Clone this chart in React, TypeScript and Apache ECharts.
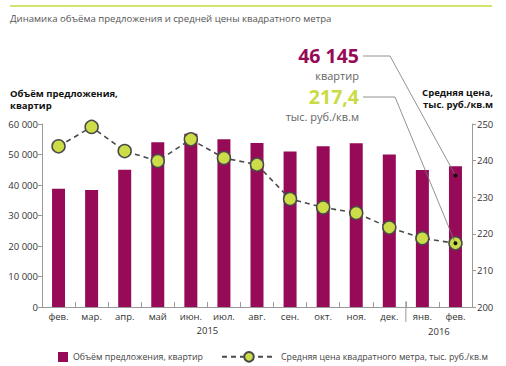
import React, { useEffect, useRef } from "react";
import * as echarts from "echarts";

const months = ["фев.", "мар.", "апр.", "май", "июн.", "июл.", "авг.", "сен.", "окт.", "ноя.", "дек.", "янв.", "фев."];
const supply = [38800, 38400, 45000, 54000, 56800, 55000, 53800, 51000, 52700, 53700, 50000, 44900, 46145];
const price = [243.9, 249.2, 242.6, 239.9, 245.8, 240.7, 238.9, 229.5, 227.2, 225.7, 221.7, 218.8, 217.4];
const years = ["2015", "2016"];
const supplyAxis = { min: 0, max: 60000, interval: 10000 };
const priceAxis = { min: 200, max: 250, interval: 10 };
const seriesNames = ["Объём предложения, квартир", "Средняя цена квадратного метра, тыс. руб./кв.м"];
const titleText = "Динамика объёма предложения и средней цены квадратного метра";
const leftAxisTitle = "Объём предложения,\nквартир";
const rightAxisTitle = "Средняя цена,\nтыс. руб./кв.м";
const calloutSupply = "46 145";
const calloutSupplyUnit = "квартир";
const calloutPrice = "217,4";
const calloutPriceUnit = "тыс. руб./кв.м";

const FONT = "'Open Sans', 'Noto Sans', sans-serif";
const BAR = "#970a57";
const GREEN = "#cddd48";
const DARK = "#4a4a4a";
const AXIS = "#9a9a9a";

export default function App() {
  const ref = useRef<HTMLDivElement>(null);
  useEffect(() => {
    if (!ref.current) return;
    const chart = echarts.init(ref.current, undefined, { renderer: "svg" });
    const fmt = (v: number) => String(v).replace(/\B(?=(\d{3})+(?!\d))/g, " ");
    chart.setOption({
      animation: false,
      textStyle: { fontFamily: FONT },
      grid: { left: 42, right: 34, top: 124, bottom: 59 },
      xAxis: {
        type: "category",
        data: months,
        axisLine: { show: true, lineStyle: { color: AXIS, width: 1 } },
        axisTick: { show: true, inside: true, length: 5, lineStyle: { color: AXIS } },
        axisLabel: { color: "#333", fontSize: 9.5, margin: 4, fontFamily: FONT },
      },
      yAxis: [
        {
          type: "value",
          position: "left",
          ...supplyAxis,
          axisLine: { show: true, lineStyle: { color: AXIS } },
          axisTick: { show: true, length: 4, lineStyle: { color: AXIS } },
          splitLine: { show: false },
          axisLabel: { color: "#333", fontSize: 9.5, margin: 4, formatter: fmt, fontFamily: FONT },
        },
        {
          type: "value",
          position: "right",
          ...priceAxis,
          axisLine: { show: true, lineStyle: { color: AXIS } },
          axisTick: { show: true, length: 4, lineStyle: { color: AXIS } },
          splitLine: { show: false },
          axisLabel: { color: "#333", fontSize: 9.5, margin: 5, fontFamily: FONT },
        },
      ],
      legend: [
        {
          data: [seriesNames[0]],
          left: 53,
          top: 347,
          icon: "rect",
          itemWidth: 10,
          itemHeight: 10,
          itemGap: 5,
          textStyle: { color: "#444", fontSize: 8.8, fontFamily: FONT },
        },
        {
          data: [seriesNames[1]],
          left: 216,
          top: 346,
          itemWidth: 54,
          itemHeight: 12,
          textStyle: { color: "#444", fontSize: 8.8, fontFamily: FONT },
        },
      ],
      series: [
        {
          name: seriesNames[0],
          type: "bar",
          data: supply,
          barWidth: 13,
          itemStyle: { color: BAR },
          yAxisIndex: 0,
        },
        {
          name: seriesNames[1],
          type: "line",
          data: price,
          yAxisIndex: 1,
          symbol: "circle",
          symbolSize: 13,
          itemStyle: { color: GREEN, borderColor: DARK, borderWidth: 1.5 },
          lineStyle: { color: DARK, width: 1.6, type: [5, 4] },
          z: 5,
        },
      ],
    });

    const last = months.length - 1;
    const px = (i: number) => (chart.convertToPixel({ xAxisIndex: 0, yAxisIndex: 0 }, [i, 0]) as number[])[0];
    const baseY = (chart.convertToPixel({ xAxisIndex: 0, yAxisIndex: 0 }, [0, 0]) as number[])[1];
    const barPt = chart.convertToPixel({ xAxisIndex: 0, yAxisIndex: 0 }, [last, supply[last] - 3000]) as number[];
    const pricePt = chart.convertToPixel({ xAxisIndex: 0, yAxisIndex: 1 }, [last, price[last]]) as number[];
    const sepX = (px(10) + px(11)) / 2;
    const y2015 = (px(4) + px(5)) / 2;
    const y2016 = (px(11) + px(12)) / 2;

    const txt = (x: number, y: number, text: string, size: number, fill: string, extra: any = {}) => ({
      type: "text",
      x,
      y,
      style: { text, fill, fontSize: size, fontFamily: FONT, verticalAlign: "middle", lineHeight: size, ...extra },
    });

    chart.setOption({
      graphic: [
        { type: "line", shape: { x1: 10, y1: 6, x2: 492, y2: 6 }, style: { stroke: "#d4e36c", lineWidth: 2 } },
        txt(10, 18, titleText, 9.6, "#555"),
        txt(10, 99, leftAxisTitle, 9.5, "#111", { fontWeight: "bold", lineHeight: 12 }),
        txt(493, 98, rightAxisTitle, 9.5, "#111", { fontWeight: "bold", lineHeight: 12, align: "right" }),
        txt(359, 55, calloutSupply, 19.5, "#960a56", { fontWeight: "bold", align: "right" }),
        txt(359, 75.5, calloutSupplyUnit, 11, "#666", { align: "right" }),
        txt(359, 96, calloutPrice, 19.5, "#c9dc44", { fontWeight: "bold", align: "right" }),
        txt(359, 116.5, calloutPriceUnit, 11, "#666", { align: "right" }),
        { type: "polyline", shape: { points: [[363, 56], [390, 56], [barPt[0], barPt[1]]] }, style: { stroke: "#777", lineWidth: 0.8, fill: null }, z: 10 },
        { type: "polyline", shape: { points: [[363, 97], [395, 97], [pricePt[0], pricePt[1]]] }, style: { stroke: "#777", lineWidth: 0.8, fill: null }, z: 10 },
        { type: "circle", shape: { cx: barPt[0], cy: barPt[1], r: 2 }, style: { fill: "#111" }, z: 10 },
        { type: "circle", shape: { cx: pricePt[0], cy: pricePt[1], r: 2 }, style: { fill: "#111" }, z: 10 },
        { type: "line", shape: { x1: sepX, y1: baseY - 6, x2: sepX, y2: baseY + 15 }, style: { stroke: AXIS, lineWidth: 1 } },
        txt(y2015, 330, years[0], 9.5, "#333", { align: "center" }),
        txt(y2016, 331, years[1], 9.5, "#333", { align: "center" }),
      ],
    });
    return () => chart.dispose();
  }, []);
  return <div ref={ref} style={{ width: 506, height: 366, position: "absolute", left: 0, top: 0 }} />;
}
